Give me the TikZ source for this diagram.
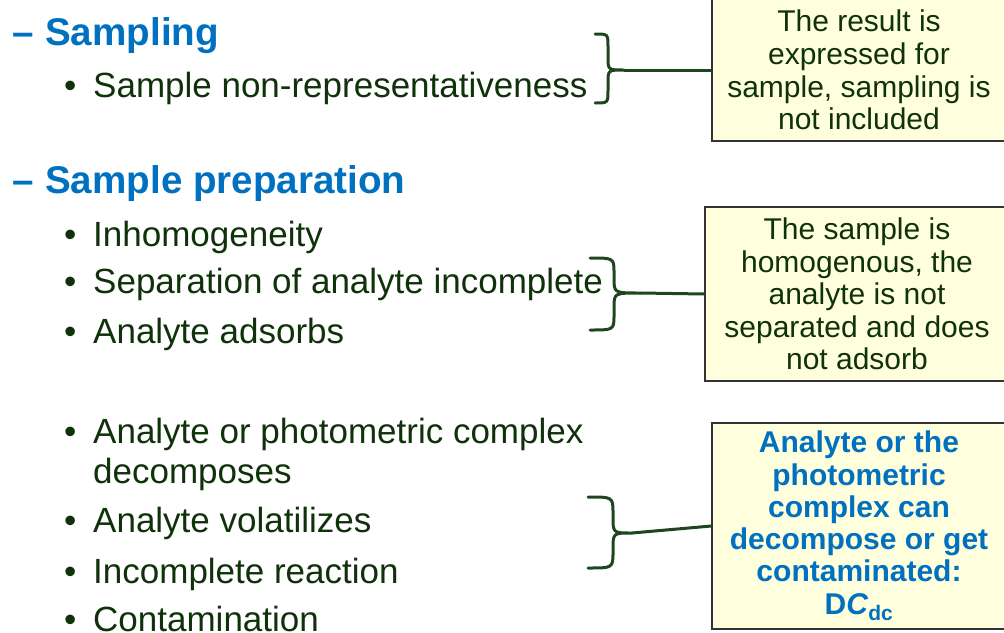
\documentclass[tikz,border=0pt]{standalone}
\usepackage{fontspec}
\setmainfont{Liberation Sans}
\definecolor{txtgreen}{RGB}{15,50,10}
\definecolor{headblue}{RGB}{0,112,192}
\definecolor{bracegreen}{RGB}{30,70,30}
\definecolor{boxfill}{RGB}{255,255,221}
\definecolor{boxline}{RGB}{50,50,50}
\begin{document}
\begin{tikzpicture}[x=1pt,y=-1pt,
  head/.style={anchor=base west,inner sep=0pt,text=headblue,font=\fontsize{38.6}{44}\selectfont\bfseries},
  item/.style={anchor=base west,inner sep=0pt,text=txtgreen,font=\fontsize{35}{40}\selectfont},
  note/.style={draw=boxline,line width=1.5pt,fill=boxfill,align=center,inner sep=0pt,text=txtgreen,font=\fontsize{30}{32.6}\selectfont},
  bluenote/.style={note,text=headblue,font=\fontsize{30}{32.3}\selectfont\bfseries},
  brace/.style={draw=bracegreen,line width=3pt,line cap=round,line join=round},
  link/.style={draw=bracegreen,line width=3pt}]
\useasboundingbox (0,0) rectangle (1004,632);
% headings
\node[head] (d1) at (12,45) {–};
\node[head] (h1) at (45,45) {Sampling};
\node[head] (d2) at (12,193) {–};
\node[head] (h2) at (45,193) {Sample preparation};
% items
\foreach \n/\y/\t in {1/97/Sample non-representativeness,
                      2/246/Inhomogeneity,
                      3/293/Separation of analyte incomplete,
                      4/343/Analyte adsorbs,
                      5/443/Analyte or photometric complex,
                      6/532/Analyte volatilizes,
                      7/583/Incomplete reaction,
                      8/631/Contamination}{
  \node[item] (b\n) at (64,\y) {•};
  \node[item] (i\n) at (93,\y) {\t};
}
\node[item] (i5b) at (93,483) {decomposes};
% notes
\node[note,minimum width=294pt,minimum height=142pt] (n1) at (859,70)
  {The result is\\expressed for\\sample, sampling is\\not included};
\node[note,minimum width=304pt,minimum height=174pt] (n2) at (857,294)
  {The sample is\\homogenous, the\\analyte is not\\separated and does\\not adsorb};
\node[bluenote,minimum width=294pt,minimum height=206pt] (n3) at (859,526)
  {Analyte or the\\photometric\\complex can\\decompose or get\\contaminated:\\D\textit{C}\textsubscript{dc}};
% braces
\coordinate (t1) at (624,70);
\coordinate (t2) at (640,293);
\coordinate (t3) at (632,533);
\draw[brace] (595,34) .. controls (608,34) .. (608,47) -- (608,57)
  .. controls (608,70) .. (t1) .. controls (608,70) .. (608,83) -- (608,90)
  .. controls (608,103) .. (595,103);
\draw[brace] (590,258) .. controls (614,258) .. (614,273) -- (614,278)
  .. controls (614,293) .. (t2) .. controls (614,293) .. (614,308) -- (614,315)
  .. controls (614,330) .. (590,330);
\draw[brace] (588,497) .. controls (613,497) .. (613,513) -- (613,517)
  .. controls (613,533) .. (t3) .. controls (613,533) .. (613,549) -- (613,552)
  .. controls (613,568) .. (588,568);
% connectors
\draw[link] (t1) -- (n1.west);
\draw[link] (t2) -- (n2.west);
\draw[link] (t3) -- (n3.west);
\end{tikzpicture}
\end{document}
